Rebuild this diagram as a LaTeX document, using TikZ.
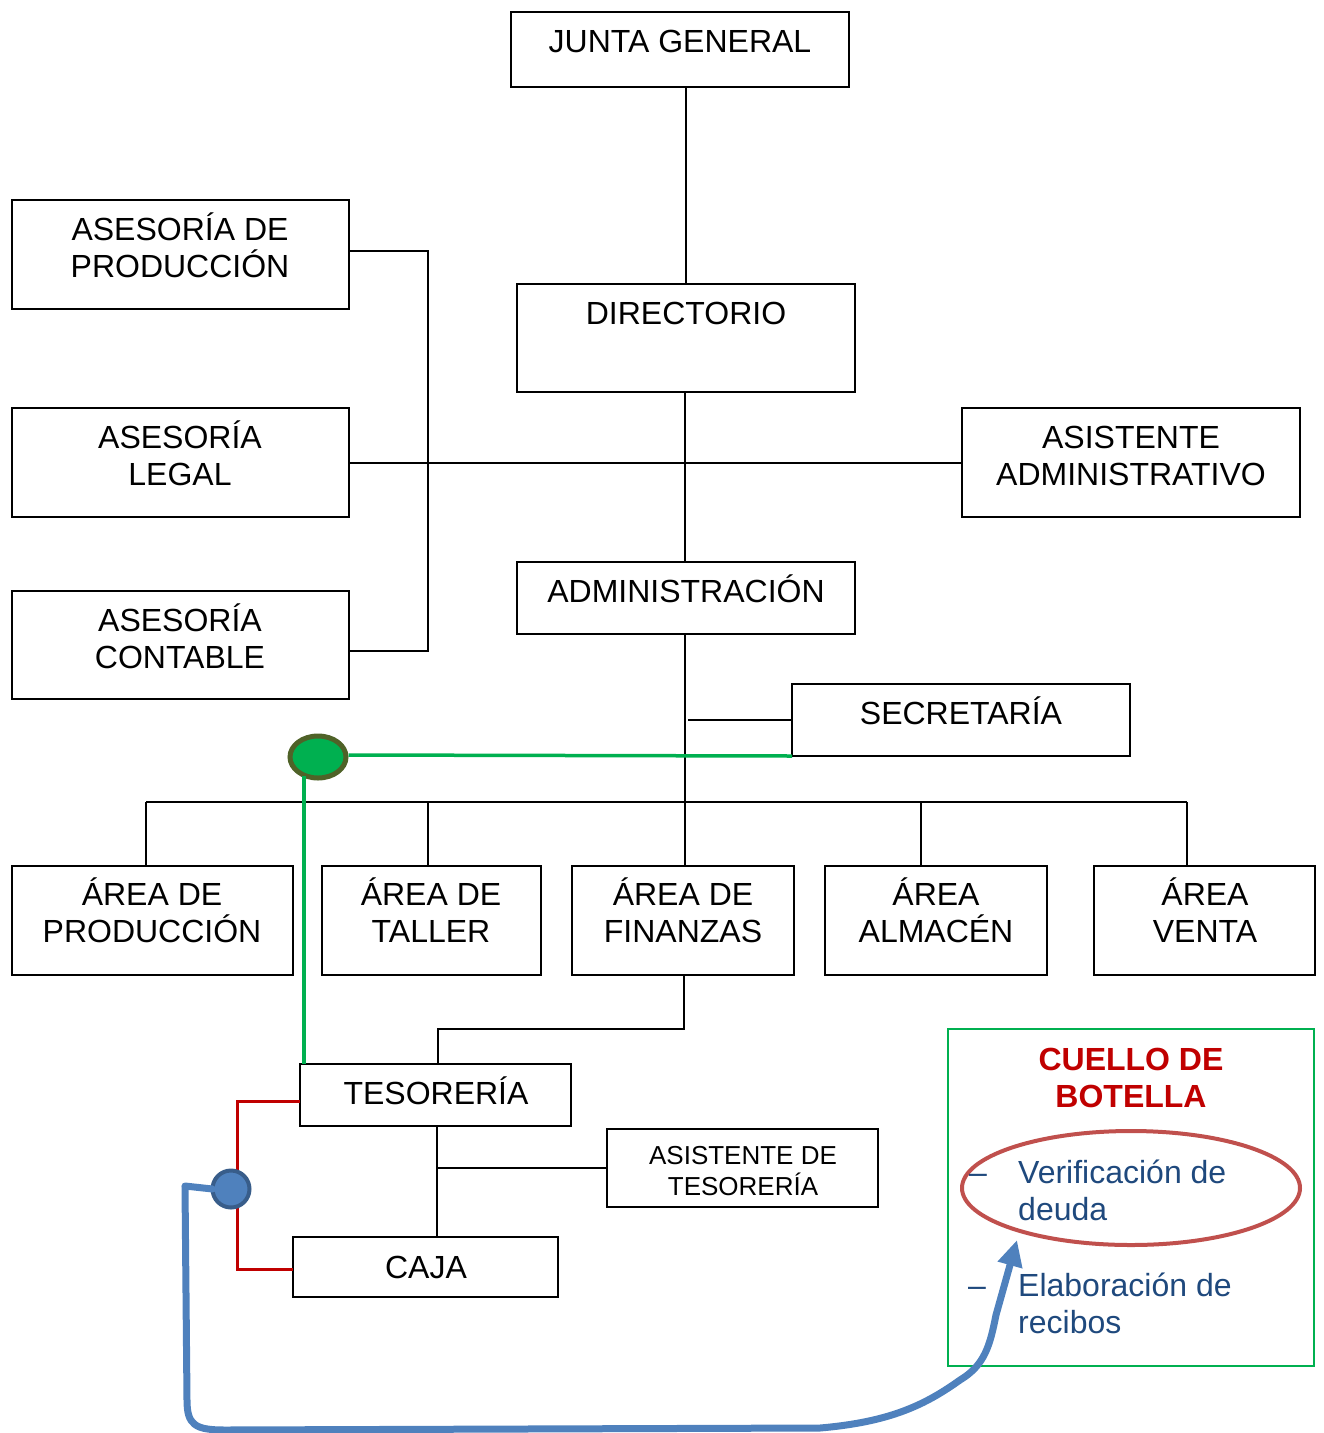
\documentclass[tikz,border=0pt]{standalone}
\usepackage{fontspec}
\setmainfont{Liberation Sans}
\usetikzlibrary{shapes.geometric,arrows.meta}
\definecolor{okgreen}{HTML}{00B050}
\definecolor{olive}{HTML}{4F6228}
\definecolor{darkred}{HTML}{C00000}
\definecolor{acblue}{HTML}{4F81BD}
\definecolor{acbluedark}{HTML}{385D8A}
\definecolor{textblue}{HTML}{1F497D}
\definecolor{ovalred}{HTML}{C0504D}
\newcommand\bigtext{\fontsize{32}{37}\selectfont}
\newcommand\midtext{\fontsize{26}{31}\selectfont}
\begin{document}
\begin{tikzpicture}[x=1pt,y=-1pt,
  box/.style={draw, line width=2pt, inner sep=0pt, outer sep=0pt},
  txt/.style={font=\bigtext, align=center, anchor=base, inner sep=0pt},
  link/.style={line width=2pt},
  greenlink/.style={draw=okgreen, line width=3.5pt},
  redlink/.style={draw=darkred, line width=3pt},
  listtext/.style={font=\bigtext, text=textblue, align=left, anchor=base west, inner sep=0pt},
  dashmark/.style={font=\bigtext, text=textblue, anchor=base, inner sep=0pt}]
\useasboundingbox (0,0) rectangle (1324,1433);

% boxes
\node[box, minimum width=338, minimum height=75] (junta) at (680,49.5) {};
\node[box, minimum width=338, minimum height=108] (dir) at (686,338) {};
\node[box, minimum width=337, minimum height=109] (aprod) at (180.5,254.5) {};
\node[box, minimum width=337, minimum height=109] (alegal) at (180.5,462.5) {};
\node[box, minimum width=337, minimum height=108] (acont) at (180.5,645) {};
\node[box, minimum width=338, minimum height=109] (asist) at (1131,462.5) {};
\node[box, minimum width=338, minimum height=72] (adm) at (686,598) {};
\node[box, minimum width=338, minimum height=72] (sec) at (961,720) {};
\node[box, minimum width=281, minimum height=109] (prod) at (152.5,920.5) {};
\node[box, minimum width=219, minimum height=109] (taller) at (431.5,920.5) {};
\node[box, minimum width=222, minimum height=109] (fin) at (683,920.5) {};
\node[box, minimum width=222, minimum height=109] (alm) at (936,920.5) {};
\node[box, minimum width=221, minimum height=109] (venta) at (1204.5,920.5) {};
\node[box, minimum width=271, minimum height=62] (tes) at (435.5,1095) {};
\node[box, minimum width=271, minimum height=78] (asistt) at (742.5,1168) {};
\node[box, minimum width=265, minimum height=60] (caja) at (425.5,1267) {};

% box labels (anchored on the baseline of the last line)
\node[txt] at (680,52.5) {JUNTA GENERAL};
\node[txt] at (686,324.5) {DIRECTORIO};
\node[txt] at (180,277.5) {ASESORÍA DE\\PRODUCCIÓN};
\node[txt] at (180,485) {ASESORÍA\\LEGAL};
\node[txt] at (180,668) {ASESORÍA\\CONTABLE};
\node[txt] at (1131,485) {ASISTENTE\\ADMINISTRATIVO};
\node[txt] at (686,602) {ADMINISTRACIÓN};
\node[txt] at (961,724) {SECRETARÍA};
\node[txt] at (152,942) {ÁREA DE\\PRODUCCIÓN};
\node[txt] at (431,942) {ÁREA DE\\TALLER};
\node[txt] at (683,942) {ÁREA DE\\FINANZAS};
\node[txt] at (936,942) {ÁREA\\ALMACÉN};
\node[txt] at (1205,942) {ÁREA\\VENTA};
\node[txt] at (436,1104) {TESORERÍA};
\node[txt, font=\midtext] at (743,1195) {ASISTENTE DE\\TESORERÍA};
\node[txt] at (426,1278) {CAJA};

% hierarchy connectors
\draw[link] (dir.north |- junta.south) -- (dir.north);
\draw[link] ([xshift=-1]dir.south) -- ([xshift=-1]adm.north);
\draw[link] (alegal.east) -- (asist.west);
\draw[link] ([yshift=3.5]aprod.east) -- ++(79,0) |- ([yshift=-6]acont.east);
\coordinate (busL) at (146,802);
\coordinate (busR) at (1187,802);
\draw[link] ([xshift=-1]adm.south) -- (685,802);
\draw[link] (busL) -- (busR);
\draw[link] (busL) -- (busL |- prod.north);
\draw[link] (428,802) -- (428,866);
\draw[link] (685,802) -- (685,866);
\draw[link] (921,802) -- (921,866);
\draw[link] (busR) -- (busR |- venta.north);
\draw[link] (sec.west) -- ++(-104,0);
\draw[link] ([xshift=1]fin.south) -- ++(0,54) -| ([xshift=2.5]tes.north);
\draw[link] ([xshift=1.5]tes.south) -- ([xshift=1.5]tes.south |- caja.north);
\draw[link] ([xshift=1.5]tes.south |- asistt.west) -- (asistt.west);

% green marker
\node[ellipse, draw=olive, fill=okgreen, line width=5pt, minimum width=56, minimum height=42, inner sep=0pt] (gdot) at (318,757) {};
\draw[greenlink] ([yshift=2]gdot.east) -- (sec.south west);
\draw[greenlink] (304,776) -- (304,1064);

% red bracket and blue marker
\draw[redlink] ([yshift=-6]tes.west) -- ++(-63,0) |- ([yshift=-2]caja.west);
\node[circle, draw=acbluedark, fill=acblue, line width=4pt, minimum size=37, inner sep=0pt] (bdot) at (231,1189) {};

% bottleneck panel
\draw[draw=okgreen, line width=2.5pt] (948,1029) rectangle (1314,1366);
\node[txt, font=\bigtext\bfseries, text=darkred] at (1131,1107.5) {CUELLO DE\\BOTELLA};
\node[ellipse, draw=ovalred, line width=4pt, minimum width=338, minimum height=114, inner sep=0pt] (oval) at (1131,1188) {};
\node[dashmark] at (978,1183.5) {–};
\node[listtext] at (1018,1220.5) {Verificación de\\deuda};
\node[dashmark] at (977,1296) {–};
\node[listtext] at (1018,1333) {Elaboración de\\recibos};

% blue arrow from the marker to the bottleneck
\coordinate (bstart) at (185,1186);
\coordinate (btip) at (1017,1240);
\draw[draw=acblue, line width=7pt, line cap=round] ([xshift=2]bdot.west) -- (bstart);
\draw[draw=acblue, line width=7pt, line join=round, -{Triangle[length=26pt,width=24pt]}]
  (bstart) -- (187,1400) .. controls (187,1425) and (195,1430) .. (225,1430)
  -- (820,1428) .. controls (890,1422) and (925,1405) .. (960,1380)
  .. controls (985,1365) and (990,1345) .. (996,1315) -- (btip);
\end{tikzpicture}
\end{document}
